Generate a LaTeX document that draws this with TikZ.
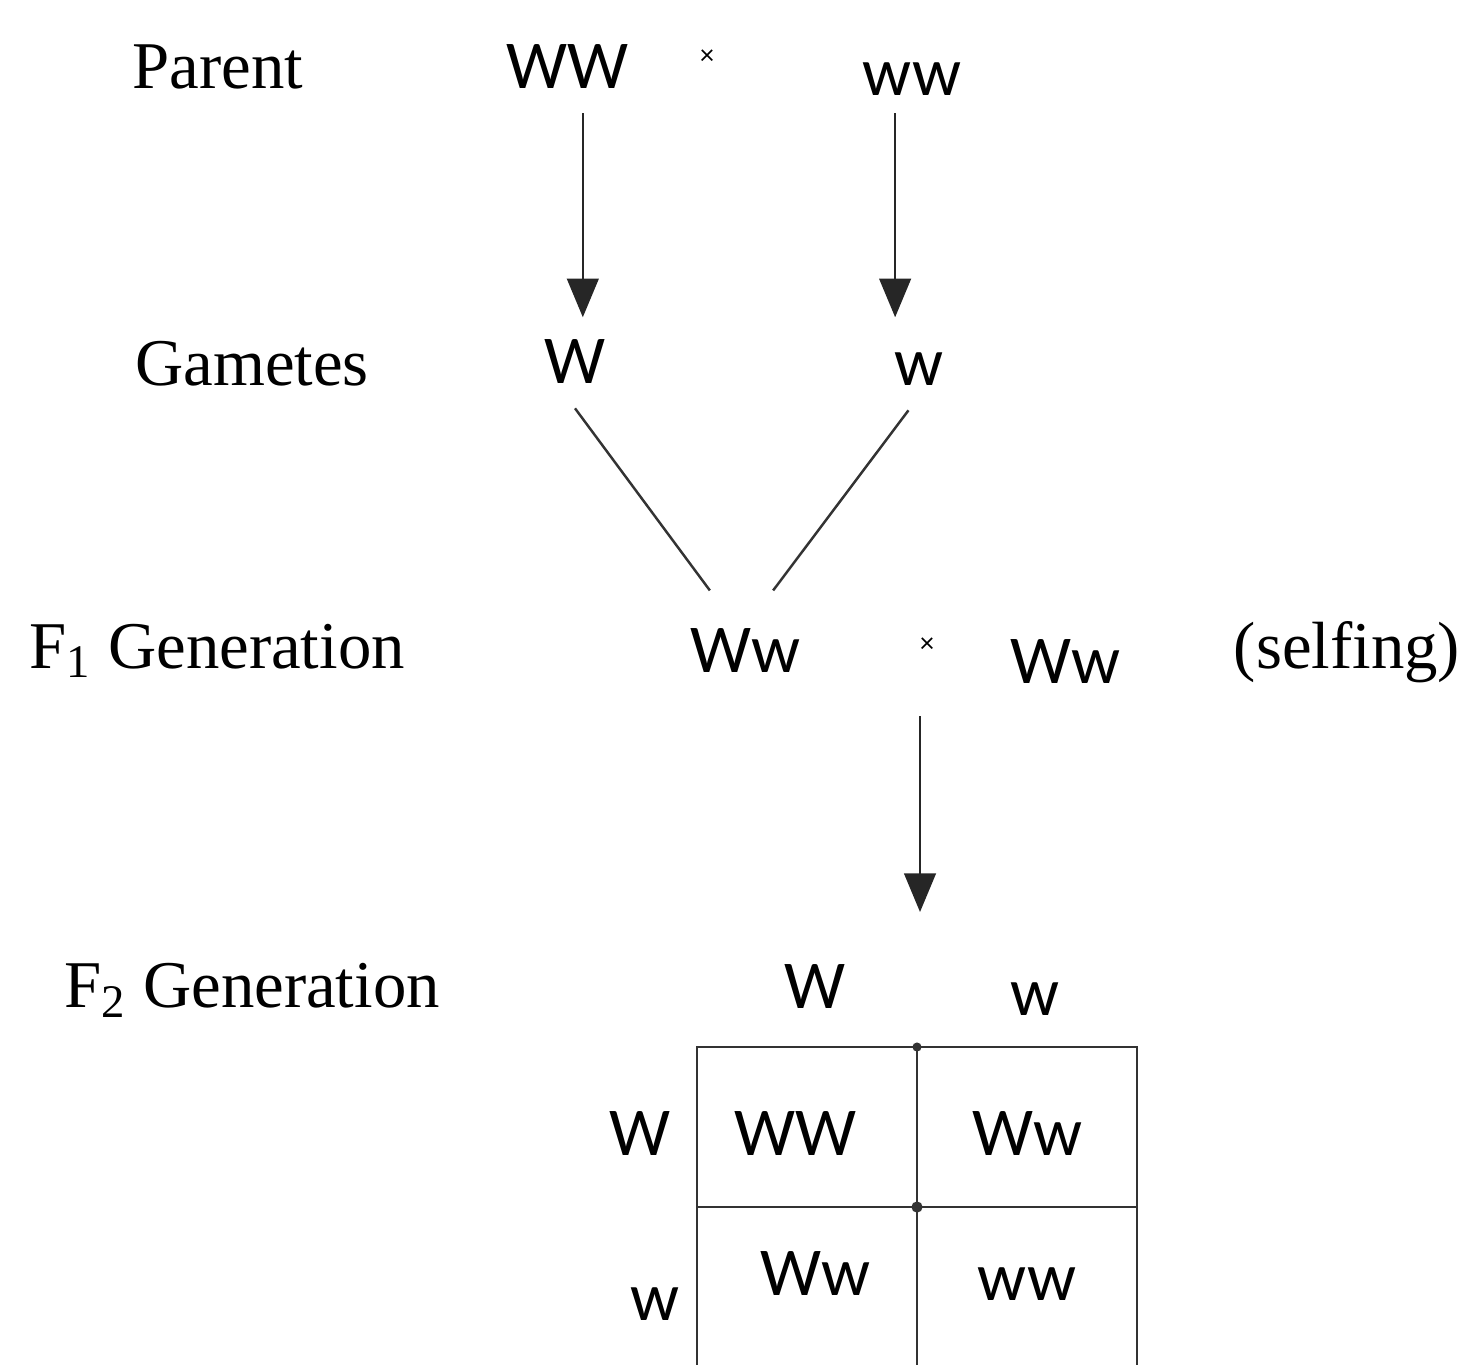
\documentclass[tikz,border=0pt]{standalone}
\usepackage{fontspec}
\setmainfont{Liberation Serif}
\newfontfamily\genofont{Carlito}
\usetikzlibrary{arrows.meta}

\tikzset{
    lbl/.style={anchor=base, inner sep=2pt, font=\fontsize{19}{22}\selectfont},
    geno/.style={anchor=base, inner sep=2pt, font=\genofont\fontsize{19.5}{24}\selectfont},
    cross/.style={inner sep=1pt, font=\genofont\fontsize{8}{9}\selectfont},
    arr/.style={-{Triangle[length=11pt,width=9pt]}, line width=0.7pt, draw=black!85, fill=black},
    ln/.style={line width=0.7pt, draw=black!80},
}

\begin{document}
\begin{tikzpicture}
    \useasboundingbox (0,0) rectangle (14.7,-13.64);

    % Parent
    \node[lbl] (parent) at (2.18,-0.88) {Parent};
    \node[geno] (pWW) at (5.67,-0.88) {WW};
    \node[cross] (px) at (7.07,-0.57) {×};
    \node[geno] (pww) at (9.12,-0.95) {ww};

    % Gametes
    \node[lbl] (gametes) at (2.52,-3.85) {Gametes};
    \node[geno] (gW) at (5.75,-3.83) {W};
    \node[geno] (gw) at (9.19,-3.85) {w};
    \draw[arr] ([xshift=4.5pt,yshift=-5pt]pWW.south) -- ([xshift=4.5pt,yshift=4pt]pWW.south |- gW.north);
    \draw[arr] ([xshift=-4.8pt,yshift=-3pt]pww.south) -- ([xshift=-4.8pt,yshift=4pt]pww.south |- gW.north);

    % F1 Generation
    \node[lbl] (f1lbl) at (2.17,-6.68) {F\textsubscript{1} Generation};
    \node[geno] (f1a) at (7.45,-6.72) {Ww};
    \node[cross] (f1x) at (9.27,-6.45) {×};
    \node[geno] (f1b) at (10.65,-6.83) {Ww};
    \node[lbl] (selfing) at (13.47,-6.68) {(selfing)};
    \draw[ln] ([yshift=-5pt]gW.south) -- ([xshift=-10pt,yshift=8.5pt]f1a.north);
    \draw[ln] ([xshift=-3pt,yshift=-5pt]gw.south) -- ([xshift=8pt,yshift=8.5pt]f1a.north);

    % F2 Generation
    \coordinate (f2in) at (9.2,-9.12);
    \draw[arr] ([yshift=-17pt]f1x.south -| f2in) -- (f2in);
    \node[lbl] (f2lbl) at (2.52,-10.07) {F\textsubscript{2} Generation};
    \node[geno] (hW) at (8.15,-10.08) {W};
    \node[geno] (hw) at (10.35,-10.15) {w};
    \node[geno] (rW) at (6.40,-11.55) {W};
    \node[geno] (rw) at (6.55,-13.20) {w};

    % Punnett square
    \draw[ln] (6.97,-10.47) rectangle (11.37,-13.66);
    \draw[ln] (9.17,-10.47) -- (9.17,-13.66);
    \draw[ln] (6.97,-12.07) -- (11.37,-12.07);
    \fill[black!80] (9.17,-10.47) circle (1.3pt) (9.17,-12.07) circle (1.6pt);
    \node[geno] (cWW) at (7.95,-11.55) {WW};
    \node[geno] (cWw1) at (10.27,-11.55) {Ww};
    \node[geno] (cWw2) at (8.15,-12.95) {Ww};
    \node[geno] (cww) at (10.27,-13.00) {ww};
\end{tikzpicture}
\end{document}
